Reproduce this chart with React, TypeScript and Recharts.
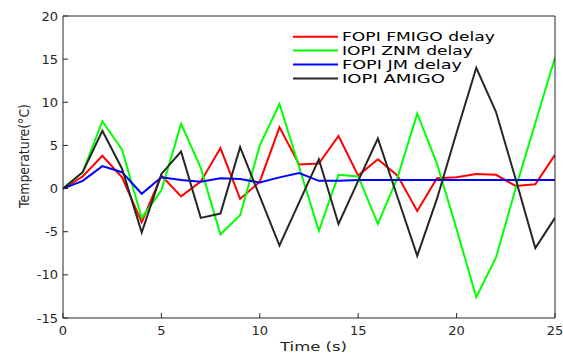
import React from 'react';
import { LineChart, Line, XAxis, YAxis } from 'recharts';

const timeS = [0,1,2,3,4,5,6,7,8,9,10,11,12,13,14,15,16,17,18,19,20,21,22,23,24,25];
const fopiFmigo = [0,1.4,3.8,1.3,-3.9,1.5,-0.9,0.8,4.7,-1.2,0.8,7.1,2.8,2.9,6.1,1.5,3.4,1.5,-2.6,1.2,1.3,1.7,1.6,0.3,0.5,3.9];
const iopiZnm = [0,1.9,7.8,4.5,-3.4,-0.2,7.5,2.4,-5.3,-3.1,5.0,9.8,2.5,-4.9,1.6,1.4,-4.1,1.3,8.7,2.9,-4.7,-12.6,-8.0,0.0,7.6,15.2];
const fopiJm = [0,0.9,2.6,1.9,-0.6,1.3,1.0,0.8,1.2,1.1,0.7,1.3,1.8,0.9,0.9,1.0,1.0,1.0,1.0,1.0,1.0,1.0,1.0,1.0,1.0,1.0];
const iopiAmigo = [0,1.9,6.7,2.3,-5.1,1.7,4.3,-3.4,-2.9,4.8,-0.9,-6.6,-1.6,3.4,-4.1,0.9,5.8,-1.0,-7.8,-1.2,6.5,14.0,8.9,1.1,-6.9,-3.4];

const xTicks = [0,5,10,15,20,25];
const yTicks = [-15,-10,-5,0,5,10,15,20];

const seriesNames = ['FOPI FMIGO delay','IOPI ZNM delay','FOPI JM delay','IOPI AMIGO'];
const seriesColors = ['#ff0000','#00ff00','#0000ff','#262626'];
const seriesKeys = ['a','b','c','d'];
const legendWidths = [153, 131, 120, 103];

const data = timeS.map((t, i) => ({ t, a: fopiFmigo[i], b: iopiZnm[i], c: fopiJm[i], d: iopiAmigo[i] }));

const AX = '#262626';
const FONT = 'DejaVu Sans, sans-serif';

const LegendOverlay = () => (
  <svg width={563} height={354} style={{ position: 'absolute', left: 0, top: 0, pointerEvents: 'none' }}>
    {seriesNames.map((n, i) => {
      const cy = 36.7 + i * 13.9;
      return (
        <g key={n}>
          <line x1={293} x2={338} y1={cy} y2={cy} stroke={seriesColors[i]} strokeWidth={2} />
          <text x={342} y={cy + 4.6} fontSize={11.8} fontFamily={FONT} fill="#000" textLength={legendWidths[i]} lengthAdjust="spacingAndGlyphs">
            {n}
          </text>
        </g>
      );
    })}
  </svg>
);

export default function App() {
  return (
    <div style={{ position: 'absolute', left: 0, top: 0, width: 563, height: 354, background: '#fff' }}>
      <LineChart width={563} height={354} data={data} margin={{ top: 15, right: 7, left: 0, bottom: 0 }}>
        <XAxis
          dataKey="t"
          type="number"
          domain={[0, 25]}
          ticks={xTicks}
          allowDataOverflow
          height={36}
          stroke={AX}
          tickSize={-5}
          tickMargin={13}
          tick={{ fill: AX, fontSize: 13, fontFamily: FONT }}
          label={{
            content: (p: any) => {
              const vb = p.viewBox;
              return (
                <text x={vb.x + vb.width / 2 + 4.5} y={vb.y + vb.height - 3.5} textAnchor="middle" fontSize={13} fontFamily={FONT} fill={AX} textLength={67} lengthAdjust="spacingAndGlyphs">
                  Time (s)
                </text>
              );
            },
          }}
        />
        <XAxis
          xAxisId="top"
          orientation="top"
          dataKey="t"
          type="number"
          domain={[0, 25]}
          ticks={xTicks}
          allowDataOverflow
          height={1}
          tick={false}
          tickSize={-5}
          stroke={AX}
        />
        <YAxis
          type="number"
          domain={[-15, 20]}
          ticks={yTicks}
          allowDataOverflow
          width={63}
          stroke={AX}
          tickSize={-5}
          tickMargin={10}
          tick={{ fill: AX, fontSize: 13, fontFamily: FONT }}
          label={{
            content: (p: any) => {
              const vb = p.viewBox;
              const cx = vb.x + 29;
              const cy = 156;
              return (
                <text x={cx} y={cy} transform={`rotate(-90, ${cx}, ${cy})`} textAnchor="middle" fontSize={13.5} fontFamily={FONT} fill={AX} textLength={104} lengthAdjust="spacingAndGlyphs">
                  Temperature(°C)
                </text>
              );
            },
          }}
        />
        <YAxis
          yAxisId="right"
          orientation="right"
          type="number"
          domain={[-15, 20]}
          ticks={yTicks}
          allowDataOverflow
          width={1}
          tick={false}
          tickSize={-5}
          stroke={AX}
        />
        {seriesKeys.map((k, i) => (
          <Line
            key={k}
            dataKey={k}
            name={seriesNames[i]}
            stroke={seriesColors[i]}
            strokeWidth={2}
            dot={false}
            activeDot={false}
            isAnimationActive={false}
            type="linear"
            xAxisId={k === 'c' ? 'top' : 0}
            yAxisId={k === 'c' ? 'right' : 0}
          />
        ))}
      </LineChart>
      <LegendOverlay />
    </div>
  );
}
